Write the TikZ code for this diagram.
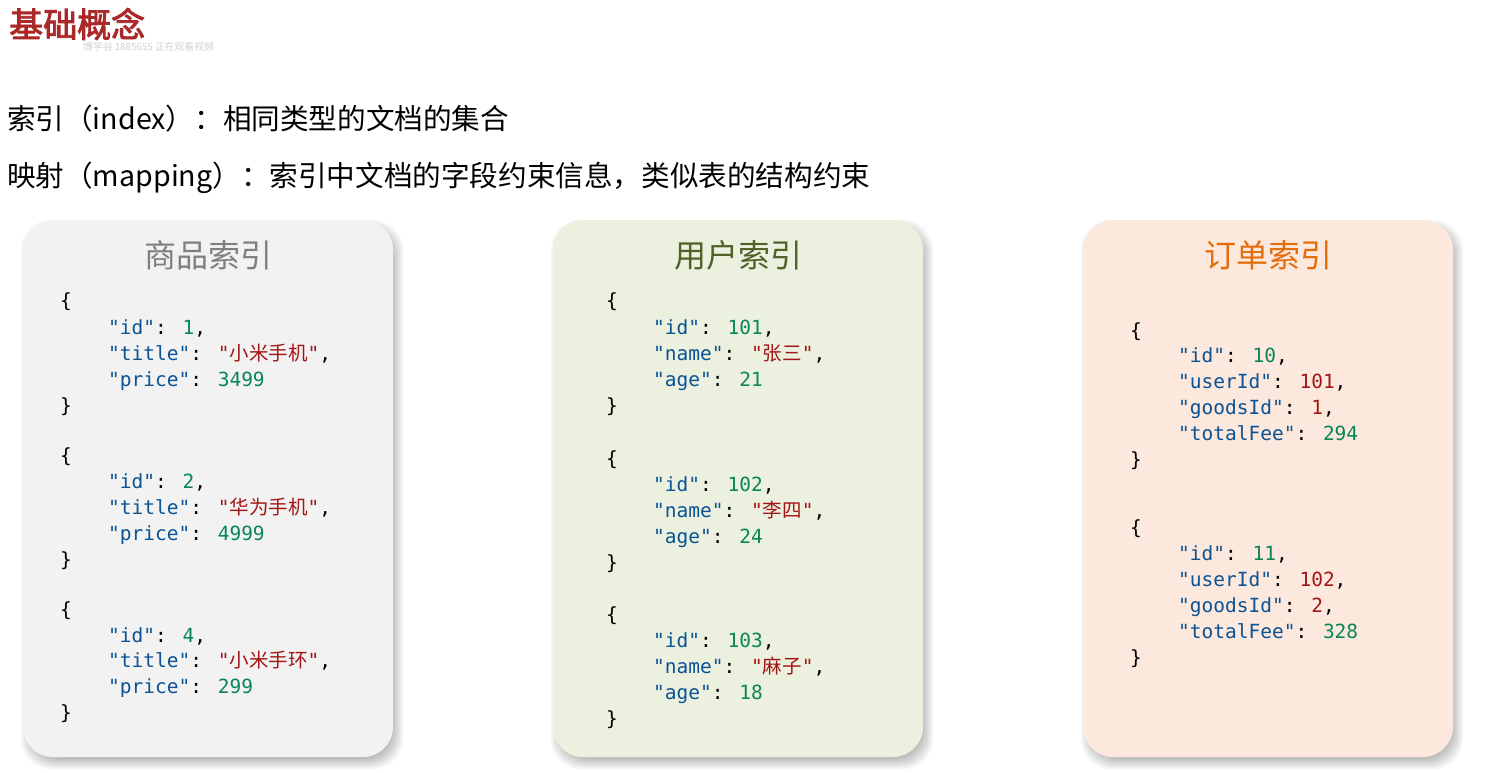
\documentclass[tikz,border=0pt]{standalone}
\usepackage{fontspec}
\newfontfamily\cjk{Noto Sans CJK SC}
\newfontfamily\cjkb{Noto Sans CJK SC}[FakeBold=2.5]
\newfontfamily\mono{DejaVu Sans Mono}
\definecolor{keyc}{RGB}{11,83,148}
\definecolor{numc}{RGB}{9,134,88}
\definecolor{strc}{RGB}{163,21,21}
\definecolor{titlec}{RGB}{170,40,40}
\definecolor{fillA}{RGB}{242,242,242}
\definecolor{fillB}{RGB}{235,240,223}
\definecolor{fillC}{RGB}{252,232,220}
\definecolor{headA}{RGB}{127,127,127}
\definecolor{headB}{RGB}{79,98,40}
\definecolor{headC}{RGB}{228,108,10}
\newcommand\jkey[1]{\textcolor{keyc}{"#1"}}
\newcommand\jnum[1]{\textcolor{numc}{#1}}
\newcommand\jred[1]{\textcolor{strc}{#1}}
\newcommand\jstr[1]{\textcolor{strc}{"{\cjk #1}"}}
\tikzset{
  code/.style={anchor=base west, inner sep=0pt, font=\mono\fontsize{19.5}{24}\selectfont},
  card/.style={rounded corners=30pt, minimum width=370pt, minimum height=537pt, inner sep=0pt},
  head/.style={inner sep=0pt, font=\cjk\fontsize{32}{36}\selectfont},
  line/.style={anchor=west, inner sep=0pt, font=\cjk\fontsize{28.6}{32}\selectfont}
}
\newcommand\cl[4]{\node[code] (#1) at (#2,#3+7) {#4};}
\newcommand\shadowat[4]{%
  \foreach \k in {0,...,7}{
    \fill[black, opacity=0.035, rounded corners=30pt]
      (#1+4-6+\k*1.5,#2+6-6+\k*1.5) rectangle (#3+4+6-\k*1.5,#4+6+6-\k*1.5);
  }}
\begin{document}
\begin{tikzpicture}[x=1pt,y=-1pt]
\useasboundingbox (0,0) rectangle (1500,772);
\fill[white] (0,0) rectangle (1500,772);

\node[inner sep=0pt, anchor=west, text=titlec, font=\cjkb\fontsize{34}{38}\selectfont] (title) at (9,24) {基础概念};
\node[inner sep=0pt, anchor=west, text=black!18, font=\cjk\fontsize{9.8}{10}\selectfont] (wm) at (83,47) {博学谷 1885655 正在观看视频};

\node[line] (l1) at (7,119) {索引（index）：相同类型的文档的集合};
\node[line] (l2) at (7,178) {映射（mapping）：索引中文档的字段约束信息，类似表的结构约束};

\shadowat{23}{220}{393}{757}
\shadowat{553}{220}{923}{757}
\shadowat{1083}{220}{1453}{757}

\node[card, fill=fillA] (cardA) at (208,488.5) {};
\node[card, fill=fillB] (cardB) at (738,488.5) {};
\node[card, fill=fillC] (cardC) at (1268,488.5) {};

\node[head, text=headA] (hA) at (208,255) {商品索引};
\node[head, text=headB] (hB) at (738,255) {用户索引};
\node[head, text=headC] (hC) at (1268,255) {订单索引};

% card A
\cl{a11}{60}{300}{\{}
\cl{a12}{108}{327}{\jkey{id}: \jnum{1},}
\cl{a13}{108}{353}{\jkey{title}: \jstr{小米手机},}
\cl{a14}{108}{379}{\jkey{price}: \jnum{3499}}
\cl{a15}{60}{405}{\}}
\cl{a21}{60}{455}{\{}
\cl{a22}{108}{481}{\jkey{id}: \jnum{2},}
\cl{a23}{108}{507}{\jkey{title}: \jstr{华为手机},}
\cl{a24}{108}{533}{\jkey{price}: \jnum{4999}}
\cl{a25}{60}{559}{\}}
\cl{a31}{60}{609}{\{}
\cl{a32}{108}{635}{\jkey{id}: \jnum{4},}
\cl{a33}{108}{660}{\jkey{title}: \jstr{小米手环},}
\cl{a34}{108}{686}{\jkey{price}: \jnum{299}}
\cl{a35}{60}{712}{\}}

% card B
\cl{b11}{606}{300}{\{}
\cl{b12}{653}{327}{\jkey{id}: \jnum{101},}
\cl{b13}{653}{353}{\jkey{name}: \jstr{张三},}
\cl{b14}{653}{379}{\jkey{age}: \jnum{21}}
\cl{b15}{606}{405}{\}}
\cl{b21}{606}{458}{\{}
\cl{b22}{653}{484}{\jkey{id}: \jnum{102},}
\cl{b23}{653}{510}{\jkey{name}: \jstr{李四},}
\cl{b24}{653}{536}{\jkey{age}: \jnum{24}}
\cl{b25}{606}{562}{\}}
\cl{b31}{606}{614}{\{}
\cl{b32}{653}{640}{\jkey{id}: \jnum{103},}
\cl{b33}{653}{666}{\jkey{name}: \jstr{麻子},}
\cl{b34}{653}{692}{\jkey{age}: \jnum{18}}
\cl{b35}{606}{718}{\}}

% card C
\cl{c11}{1130}{330}{\{}
\cl{c12}{1178}{355}{\jkey{id}: \jnum{10},}
\cl{c13}{1178}{381}{\jkey{userId}: \jred{101},}
\cl{c14}{1178}{407}{\jkey{goodsId}: \jred{1},}
\cl{c15}{1178}{433}{\jkey{totalFee}: \jnum{294}}
\cl{c16}{1130}{459}{\}}
\cl{c21}{1130}{527}{\{}
\cl{c22}{1178}{553}{\jkey{id}: \jnum{11},}
\cl{c23}{1178}{579}{\jkey{userId}: \jred{102},}
\cl{c24}{1178}{605}{\jkey{goodsId}: \jred{2},}
\cl{c25}{1178}{631}{\jkey{totalFee}: \jnum{328}}
\cl{c26}{1130}{657}{\}}
\end{tikzpicture}
\end{document}
